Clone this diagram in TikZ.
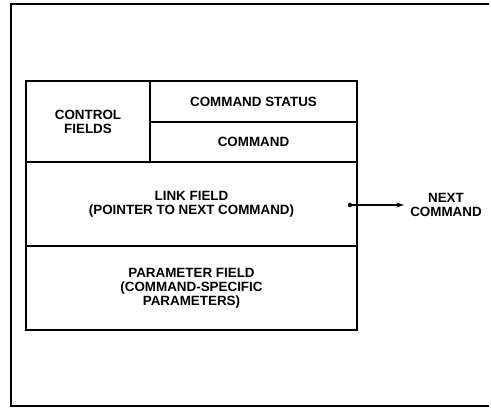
\documentclass[tikz,border=0pt]{standalone}
\usepackage{fontspec}
\setmainfont{Liberation Sans}
\usepackage{tikz}
\usetikzlibrary{arrows.meta,positioning}
\tikzset{
  field/.style={draw,line width=1.6pt,inner sep=0pt,align=center,
    font=\bfseries\fontsize{13.4}{14.2}\selectfont},
  lbl/.style={align=center,inner sep=5pt,font=\bfseries\fontsize{13.4}{14.2}\selectfont},
  ar/.style={-{Stealth[length=8pt,width=5pt]},line width=1.1pt}
}
\begin{document}
\begin{tikzpicture}[x=1pt,y=-1pt]
\useasboundingbox (0,0) rectangle (491,409);
% outer frame, open on the right
\draw[line width=1.2pt] (489,4) -- (11,4) -- (11,406) -- (489,406);
% command block
\node[field,minimum width=124pt,minimum height=81pt] (ctrl) at (88,121.5) {CONTROL\\FIELDS};
\node[field,minimum width=207pt,minimum height=41pt] (stat) at (253.5,101.5) {COMMAND STATUS};
\node[field,minimum width=207pt,minimum height=40pt] (cmd) at (253.5,142) {COMMAND};
\node[field,minimum width=331pt,minimum height=84pt] (lnk) at (191.5,204) {LINK FIELD\\(POINTER TO NEXT COMMAND)};
\node[field,minimum width=331pt,minimum height=84pt] (par) at (191.5,288) {PARAMETER FIELD\\(COMMAND-SPECIFIC\\PARAMETERS)};
% pointer
\coordinate (ptr) at (350,205);
\node[lbl,inner sep=6pt] (next) at (446,205) {NEXT\\COMMAND};
\fill (ptr) circle (2.2pt);
\draw[ar] (ptr) -- (next);
\end{tikzpicture}
\end{document}
